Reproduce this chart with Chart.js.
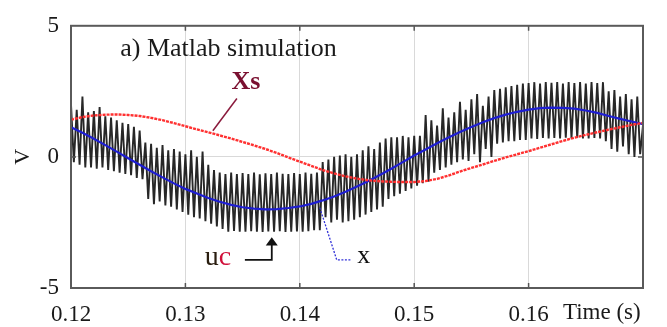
<!DOCTYPE html>
<html>
<head>
<meta charset="utf-8">
<script src="https://cdn.jsdelivr.net/npm/chart.js@4.4.1/dist/chart.umd.min.js"></script>
<style>
  html, body { margin: 0; padding: 0; background: #fff; }
  canvas { display: block; }
</style>
</head>
<body>
<canvas id="grafico" width="667" height="327"></canvas>
<script>
// eixo do tempo (s)
const tInicio = 0.12;
const tFim = 0.17;
const xTicks = [0.12, 0.13, 0.14, 0.15, 0.16];
const yTicks = [-5, 0, 5];

// x (azul) e xs (vermelho), um valor a cada 1 ms de 0.120 a 0.170
const passoLento = 0.001;
const xAzul = [
  1.13, 0.92, 0.69, 0.45, 0.20, -0.05, -0.30, -0.55, -0.78, -1.01,
  -1.22, -1.40, -1.57, -1.71, -1.83, -1.92, -1.97, -2.00, -1.99, -1.95,
  -1.89, -1.79, -1.66, -1.51, -1.33, -1.13, -0.92, -0.69, -0.45, -0.20,
  0.05, 0.28, 0.52, 0.74, 0.95, 1.14, 1.32, 1.48, 1.61, 1.72,
  1.80, 1.86, 1.88, 1.87, 1.84, 1.77, 1.68, 1.56, 1.45, 1.35,
  1.25
];
const xsVermelho = [
  1.42, 1.52, 1.58, 1.61, 1.62, 1.60, 1.56, 1.49, 1.40, 1.29,
  1.17, 1.05, 0.94, 0.82, 0.70, 0.57, 0.44, 0.30, 0.15, -0.02,
  -0.18, -0.34, -0.50, -0.63, -0.74, -0.83, -0.89, -0.93, -0.95, -0.96,
  -0.96, -0.92, -0.84, -0.71, -0.56, -0.42, -0.29, -0.15, -0.02, 0.10,
  0.22, 0.35, 0.48, 0.61, 0.73, 0.84, 0.94, 1.04, 1.13, 1.22,
  1.30
];

// uc (preto): picos e vales de cada ciclo de 0.5 ms
const passoPwm = 0.0005;
const ucAlto = [
  2.0, 1.8, 2.3, 1.7, 1.75, 1.9, 1.55, 1.5, 1.4, 1.3,
  1.25, 1.15, 1.0, 0.55, 0.5, 0.35, 0.45, 0.25, 0.3, 0.2,
  0.1, 0.25, 0.0, 0.2, -0.3, -0.5, -0.6, -0.65, -0.6, -0.65,
  -0.62, -0.65, -0.6, -0.66, -0.63, -0.65, -0.6, -0.64, -0.65, -0.62,
  -0.65, -0.6, -0.64, -0.6, -0.2, -0.1, 0.0, 0.05, 0.1, 0.0,
  0.1, 0.25, 0.4, 0.3, 0.55, 0.7, 0.75, 0.75, 0.8, 0.75,
  0.8, 0.8, 1.6, 1.4, 1.2, 1.85, 1.5, 1.7, 2.1, 1.8,
  2.2, 2.4, 1.95, 2.3, 2.55, 2.6, 2.65, 2.7, 2.75, 2.8,
  2.82, 2.85, 2.8, 2.85, 2.83, 2.85, 2.8, 2.85, 2.82, 2.85,
  2.8, 2.85, 2.82, 2.85, 2.5, 2.55, 2.3, 2.4, 2.2, 2.3
];
const ucBaixo = [
  -0.2, -0.3, -0.4, -0.4, -0.45, -0.4, -0.5, -0.55, -0.6, -0.65,
  -0.7, -0.8, -0.85, -1.6, -1.8, -1.7, -1.85, -1.9, -2.0, -2.1,
  -2.2, -2.3, -2.35, -2.45, -2.55, -2.65, -2.75, -2.85, -2.82, -2.85,
  -2.85, -2.83, -2.85, -2.86, -2.84, -2.85, -2.83, -2.86, -2.85, -2.84,
  -2.85, -2.83, -2.8, -2.8, -2.3, -2.5, -2.4, -2.5, -2.45, -2.4,
  -2.3, -2.2, -2.1, -2.0, -1.9, -1.6, -1.5, -1.4, -1.3, -1.2,
  -1.1, -1.0, -0.95, -0.6, -0.5, -0.4, -0.3, -0.2, -0.1, -0.15,
  0.1, -0.2, 0.3, 0.0, 0.5, 0.55, 0.6, 0.6, 0.65, 0.65,
  0.7, 0.68, 0.72, 0.7, 0.72, 0.7, 0.73, 0.7, 0.72, 0.7,
  0.7, 0.72, 0.7, 0.6, 0.3, 0.2, 0.4, 0.1, 0.0, 0.1
];
const ucFinal = 1.2;

const fonte = "'Liberation Serif', 'DejaVu Serif', serif";

// montar os pontos {x, y}
const pontosAzul = xAzul.map((v, i) => ({ x: tInicio + i * passoLento, y: v }));
const pontosVermelho = xsVermelho.map((v, i) => ({ x: tInicio + i * passoLento, y: v }));
const pontosUc = [];
ucAlto.forEach((v, i) => {
    pontosUc.push({ x: tInicio + i * passoPwm, y: v });
    pontosUc.push({ x: tInicio + i * passoPwm + passoPwm / 2, y: ucBaixo[i] });
});
pontosUc.push({ x: tFim, y: ucFinal });

// moldura, marcas internas e anotações
const moldura = {
    id: 'moldura',
    afterDraw(chart) {
        const { ctx, chartArea: a, scales: { x, y } } = chart;
        ctx.save();
        // marcas internas
        ctx.strokeStyle = '#555';
        ctx.lineWidth = 1.5;
        xTicks.slice(1).forEach(t => {
            const px = x.getPixelForValue(t);
            ctx.beginPath();
            ctx.moveTo(px, a.bottom); ctx.lineTo(px, a.bottom - 5);
            ctx.moveTo(px, a.top); ctx.lineTo(px, a.top + 5);
            ctx.stroke();
        });
        const p0 = y.getPixelForValue(0);
        ctx.beginPath();
        ctx.moveTo(a.left, p0); ctx.lineTo(a.left + 5, p0);
        ctx.moveTo(a.right, p0); ctx.lineTo(a.right - 5, p0);
        ctx.stroke();
        // caixa
        ctx.strokeStyle = '#5a5a5a';
        ctx.lineWidth = 2;
        ctx.strokeRect(a.left, a.top, a.right - a.left, a.bottom - a.top);

        // "Time (s)" ao lado do 0.16
        ctx.fillStyle = '#1a1a1a';
        ctx.font = '23px ' + fonte;
        ctx.textAlign = 'left';
        ctx.textBaseline = 'middle';
        ctx.fillText('Time (s)', x.getPixelForValue(0.163), a.bottom + 25);

        // título
        ctx.font = '26px ' + fonte;
        ctx.fillText('a) Matlab simulation', x.getPixelForValue(0.1243), y.getPixelForValue(4.1));

        // Xs com linha guia
        ctx.strokeStyle = '#8a1a3c';
        ctx.lineWidth = 1.5;
        ctx.beginPath();
        ctx.moveTo(x.getPixelForValue(0.1345), y.getPixelForValue(2.23));
        ctx.lineTo(x.getPixelForValue(0.1324), y.getPixelForValue(1.0));
        ctx.stroke();
        ctx.fillStyle = '#7a1030';
        ctx.font = 'bold 26px ' + fonte;
        ctx.textAlign = 'center';
        ctx.fillText('Xs', x.getPixelForValue(0.1353), y.getPixelForValue(2.86));

        // uc com seta
        ctx.font = '28px ' + fonte;
        ctx.textAlign = 'left';
        const uX = x.getPixelForValue(0.1317);
        const uY = y.getPixelForValue(-3.86);
        ctx.fillStyle = '#2a1e10';
        ctx.fillText('u', uX, uY);
        ctx.fillStyle = '#d0103a';
        ctx.fillText('c', uX + ctx.measureText('u').width, uY);

        ctx.strokeStyle = '#111';
        ctx.lineWidth = 1.8;
        const sx = x.getPixelForValue(0.13755);
        ctx.beginPath();
        ctx.moveTo(x.getPixelForValue(0.1352), y.getPixelForValue(-3.93));
        ctx.lineTo(sx, y.getPixelForValue(-3.93));
        ctx.lineTo(sx, y.getPixelForValue(-3.34));
        ctx.stroke();
        ctx.fillStyle = '#111';
        ctx.beginPath();
        ctx.moveTo(sx, y.getPixelForValue(-3.06));
        ctx.lineTo(sx - 6, y.getPixelForValue(-3.38));
        ctx.lineTo(sx + 6, y.getPixelForValue(-3.38));
        ctx.closePath();
        ctx.fill();

        // x com linha guia azul
        ctx.strokeStyle = '#3030d8';
        ctx.lineWidth = 1.3;
        ctx.setLineDash([2, 1.5]);
        ctx.beginPath();
        ctx.moveTo(x.getPixelForValue(0.14175), y.getPixelForValue(-1.94));
        ctx.lineTo(x.getPixelForValue(0.14323), y.getPixelForValue(-3.93));
        ctx.lineTo(x.getPixelForValue(0.14454), y.getPixelForValue(-3.93));
        ctx.stroke();
        ctx.setLineDash([]);
        ctx.fillStyle = '#111';
        ctx.font = '26px ' + fonte;
        ctx.textAlign = 'center';
        ctx.fillText('x', x.getPixelForValue(0.1456), y.getPixelForValue(-3.8));
        ctx.restore();
    }
};

new Chart(document.getElementById('grafico').getContext('2d'), {
    type: 'line',
    data: {
        datasets: [
            { label: 'xs', data: pontosVermelho, borderColor: '#ff3030', borderWidth: 2.4, borderDash: [3, 1], pointRadius: 0, tension: 0, order: 1 },
            { label: 'x', data: pontosAzul, borderColor: '#1e1ed2', borderWidth: 2.2, pointRadius: 0, tension: 0, order: 2 },
            { label: 'uc', data: pontosUc, borderColor: 'rgba(15,15,15,0.9)', borderWidth: 1.9, pointRadius: 0, tension: 0, order: 3 }
        ]
    },
    options: {
        responsive: false,
        animation: false,
        events: [],
        layout: { padding: { top: 17, right: 24, left: 0, bottom: 0 } },
        plugins: { legend: { display: false }, tooltip: { enabled: false } },
        scales: {
            x: {
                type: 'linear',
                min: tInicio,
                max: tFim,
                afterBuildTicks: s => { s.ticks = xTicks.concat([tFim]).map(v => ({ value: v })); },
                ticks: {
                    callback: v => (xTicks.includes(Math.round(v * 100) / 100) ? v.toFixed(2) : ''),
                    color: '#1a1a1a',
                    font: { family: fonte, size: 23 },
                    padding: 13,
                    maxRotation: 0,
                    autoSkip: false
                },
                grid: { color: '#d9d9d9', lineWidth: 1, drawTicks: false },
                border: { display: false },
                afterFit: s => { s.height = 39; }
            },
            y: {
                min: -5,
                max: 5,
                afterBuildTicks: s => { s.ticks = yTicks.map(v => ({ value: v })); },
                ticks: {
                    color: '#1a1a1a',
                    font: { family: fonte, size: 23 },
                    padding: 12
                },
                title: { display: true, text: 'V', color: '#1a1a1a', font: { family: fonte, size: 22 }, padding: { top: 10, bottom: 0 } },
                grid: { color: '#d9d9d9', lineWidth: 1, drawTicks: false },
                border: { display: false },
                afterFit: s => { s.width = 71; }
            }
        }
    },
    plugins: [moldura]
});
</script>
</body>
</html>
